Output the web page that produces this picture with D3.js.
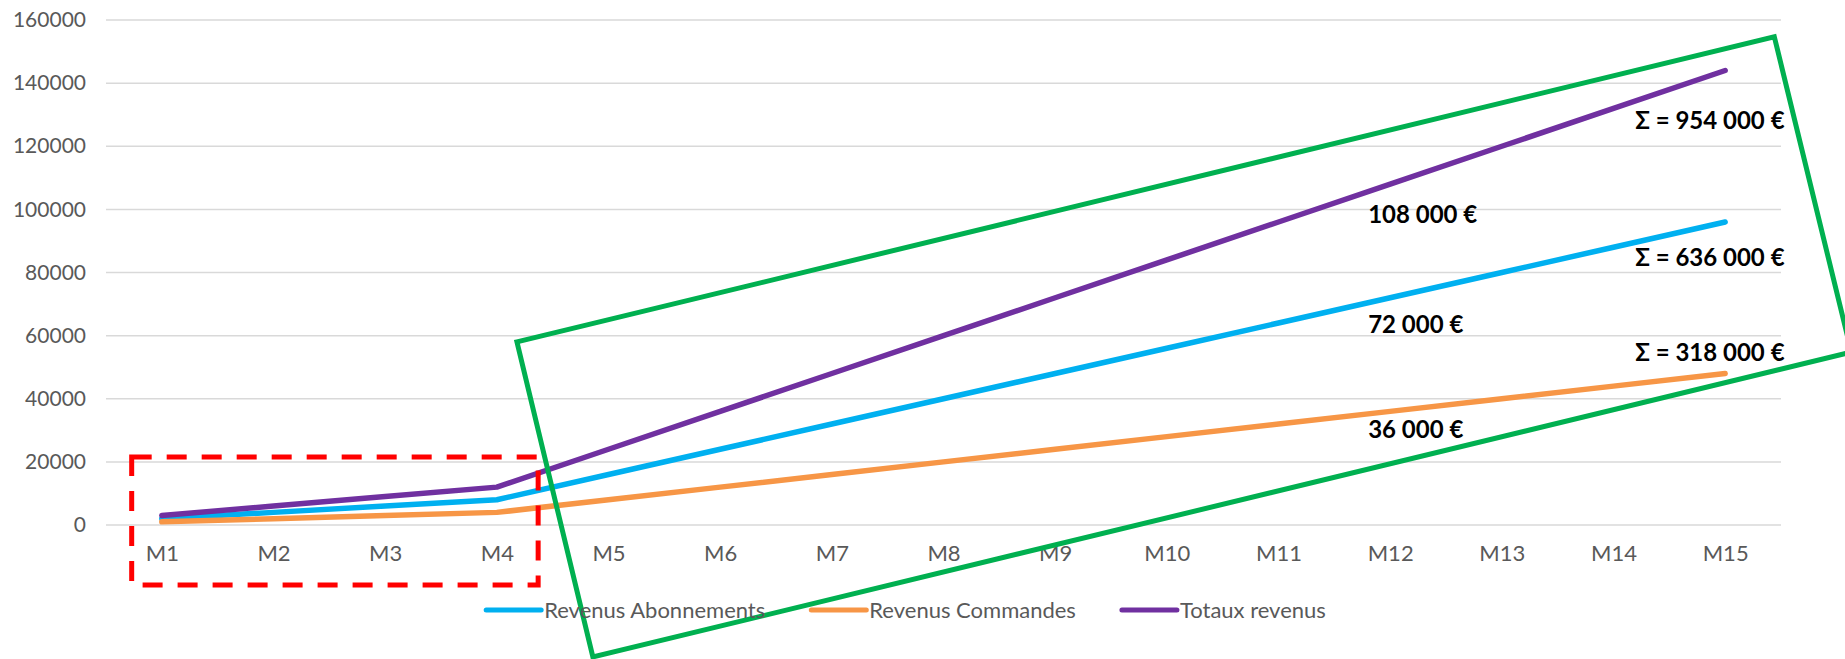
<!DOCTYPE html>
<html>
<head>
<meta charset="utf-8">
<script src="https://cdn.jsdelivr.net/npm/d3@7"></script>
<style>
  body { margin: 0; background: #fff; }
  text { font-family: Lato, "Open Sans", sans-serif; }
</style>
</head>
<body>
<div id="chart"></div>
<script>
// data
const months = ["M1","M2","M3","M4","M5","M6","M7","M8","M9","M10","M11","M12","M13","M14","M15"];
const abonnements = [2000,4000,6000,8000,16000,24000,32000,40000,48000,56000,64000,72000,80000,88000,96000];
const commandes   = [1000,2000,3000,4000,8000,12000,16000,20000,24000,28000,32000,36000,40000,44000,48000];
const totaux      = [3000,6000,9000,12000,24000,36000,48000,60000,72000,84000,96000,108000,120000,132000,144000];
const yTicks = [0,20000,40000,60000,80000,100000,120000,140000,160000];

const seriesNames = ["Revenus Abonnements","Revenus Commandes","Totaux revenus"];
const seriesColors = ["#00B0F0","#F79646","#7030A0"];

// labels on the chart (month anchor, value anchor)
const monthLabels = ["108 000 €","72 000 €","36 000 €"];
const monthLabelValues = [98300,63400,30100];
const sumLabels = ["Σ = 954 000 €","Σ = 636 000 €","Σ = 318 000 €"];
const sumLabelValues = [128000,84600,54500];

// highlight shapes in (month index, value) space
const redBox = [[0.73,21550],[4.37,21550],[4.37,-19000],[0.73,-19000]];
const greenBox = [[4.18,58000],[15.44,154700],[16.13,54800],[4.86,-41800]];

const W = 1845, H = 659;
const svg = d3.select("#chart").append("svg")
    .attr("width", W)
    .attr("height", H);

const x = d3.scalePoint()
    .domain(months)
    .range([106, 1781])
    .padding(0.5);
const y = d3.scaleLinear()
    .domain([0, 160000])
    .range([525, 20]);
// month index -> pixel, for the annotation shapes
const xi = d3.scaleLinear()
    .domain([1, 15])
    .range([x("M1"), x("M15")]);

// gridlines
svg.append("g").selectAll("line")
    .data(yTicks)
    .enter().append("line")
    .attr("x1", 106).attr("x2", 1781)
    .attr("y1", d => y(d)).attr("y2", d => y(d))
    .attr("stroke", "#d9d9d9")
    .attr("stroke-width", 1.5);

// y labels
let yAxis = svg.append("g")
    .attr("transform", "translate(86,0)")
    .call(d3.axisLeft(y).tickValues(yTicks).tickSize(0).tickPadding(0).tickFormat(d3.format("d")));
yAxis.select(".domain").remove();
yAxis.selectAll("text")
    .attr("fill", "#595959")
    .style("font-size", "21px");

// x labels
let xAxis = svg.append("g")
    .attr("transform", "translate(0,545)")
    .call(d3.axisBottom(x).tickSize(0).tickPadding(0));
xAxis.select(".domain").remove();
xAxis.selectAll("text")
    .attr("fill", "#595959")
    .attr("dy", "0.71em")
    .style("font-size", "22px");

// lines
const allSeries = [abonnements, commandes, totaux];
const line = d3.line()
    .x((d, i) => x(months[i]))
    .y(d => y(d));

svg.append("g").selectAll("path")
    .data(allSeries)
    .enter().append("path")
    .attr("d", line)
    .attr("fill", "none")
    .attr("stroke", (d, i) => seriesColors[i])
    .attr("stroke-width", 5.5)
    .attr("stroke-linecap", "round")
    .attr("stroke-linejoin", "round");

// red dashed box
const boxLine = d3.line()
    .x(d => xi(d[0]))
    .y(d => y(d[1]))
    .curve(d3.curveLinearClosed);

svg.append("path")
    .attr("d", boxLine(redBox))
    .attr("fill", "none")
    .attr("stroke", "#FF0000")
    .attr("stroke-width", 5)
    .attr("stroke-dasharray", "20,15");

// green box
svg.append("path")
    .attr("d", boxLine(greenBox))
    .attr("fill", "none")
    .attr("stroke", "#00B050")
    .attr("stroke-width", 5)
    .attr("stroke-linejoin", "miter");

// annotations
svg.append("g").selectAll("text")
    .data(monthLabels)
    .enter().append("text")
    .attr("x", x("M12") - 22)
    .attr("y", (d, i) => y(monthLabelValues[i]))
    .attr("dy", "0.35em")
    .style("font-size", "24px")
    .style("font-weight", "bold")
    .attr("fill", "#000")
    .text(d => d);

svg.append("g").selectAll("text")
    .data(sumLabels)
    .enter().append("text")
    .attr("x", x("M15") - 90)
    .attr("y", (d, i) => y(sumLabelValues[i]))
    .attr("dy", "0.35em")
    .style("font-size", "24px")
    .style("font-weight", "bold")
    .attr("fill", "#000")
    .text(d => d);

// legend
let legend = svg.append("g").attr("transform", "translate(0,610)");
let items = legend.selectAll("g")
    .data(seriesNames)
    .enter().append("g");
items.append("line")
    .attr("x1", 0).attr("x2", 55)
    .attr("y1", 0).attr("y2", 0)
    .attr("stroke", (d, i) => seriesColors[i])
    .attr("stroke-width", 5)
    .attr("stroke-linecap", "round");
items.append("text")
    .attr("x", 58)
    .attr("dy", "0.35em")
    .attr("fill", "#595959")
    .style("font-size", "22px")
    .text(d => d);

let widths = [];
items.each(function () { widths.push(this.getBBox().width); });
let total = d3.sum(widths) + 46 * (widths.length - 1);
let pos = 906 - total / 2;
items.attr("transform", (d, i) => {
    let t = `translate(${pos},0)`;
    pos += widths[i] + 46;
    return t;
});
</script>
</body>
</html>
